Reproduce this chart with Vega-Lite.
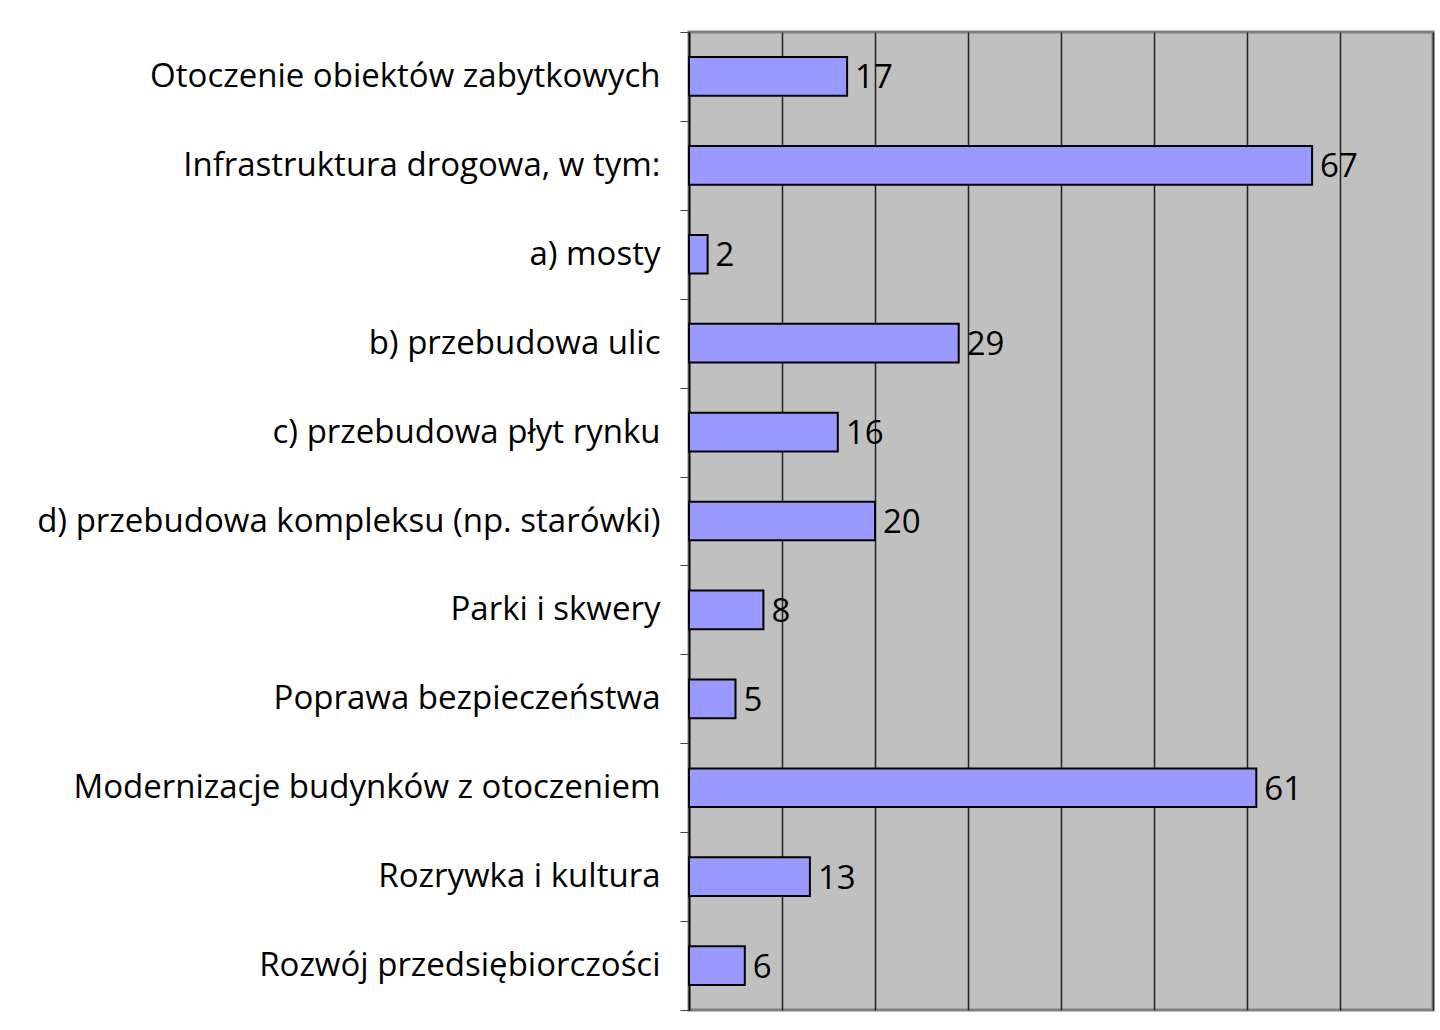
{
  "$schema": "https://vega.github.io/schema/vega-lite/v6.json",
  "width": 744,
  "height": 978,
  "autosize": "none",
  "padding": {"left": 689, "top": 32, "right": 7, "bottom": 20},
  "background": "white",
  "config": {
    "view": {"fill": "#C0C0C0", "stroke": "#808080", "strokeWidth": 3},
    "font": "Open Sans"
  },
  "data": {
    "values": [
      {"category": "Otoczenie obiektów zabytkowych", "value": 17},
      {"category": "Infrastruktura drogowa, w tym:", "value": 67},
      {"category": "a) mosty", "value": 2},
      {"category": "b) przebudowa ulic", "value": 29},
      {"category": "c) przebudowa płyt rynku", "value": 16},
      {"category": "d) przebudowa kompleksu (np. starówki)", "value": 20},
      {"category": "Parki i skwery", "value": 8},
      {"category": "Poprawa bezpieczeństwa", "value": 5},
      {"category": "Modernizacje budynków z otoczeniem", "value": 61},
      {"category": "Rozrywka i kultura", "value": 13},
      {"category": "Rozwój przedsiębiorczości", "value": 6}
    ]
  },
  "encoding": {
    "y": {
      "field": "category",
      "type": "nominal",
      "sort": null,
      "scale": {"paddingInner": 0, "paddingOuter": 0},
      "axis": {
        "title": null,
        "labelFont": "Open Sans",
        "labelFontSize": 33,
        "labelColor": "black",
        "labelPadding": 20,
        "labelLimit": 700,
        "tickBand": "extent",
        "tickSize": 9,
        "tickColor": "#444",
        "domainColor": "black",
        "domainWidth": 1.5
      }
    },
    "x": {
      "field": "value",
      "type": "quantitative",
      "scale": {"domain": [0, 80], "nice": false},
      "axis": {
        "title": null,
        "labels": false,
        "ticks": false,
        "domain": false,
        "grid": true,
        "gridColor": "#222",
        "gridWidth": 1.5,
        "values": [0, 10, 20, 30, 40, 50, 60, 70, 80]
      }
    }
  },
  "layer": [
    {
      "mark": {"type": "bar", "fill": "#9999FF", "stroke": "black", "strokeWidth": 2, "height": {"band": 0.435}}
    },
    {
      "mark": {"type": "text", "align": "left", "baseline": "middle", "dx": 8, "dy": 2, "fontSize": 33, "font": "Open Sans", "color": "black"},
      "encoding": {"text": {"field": "value", "type": "quantitative"}}
    }
  ]
}
